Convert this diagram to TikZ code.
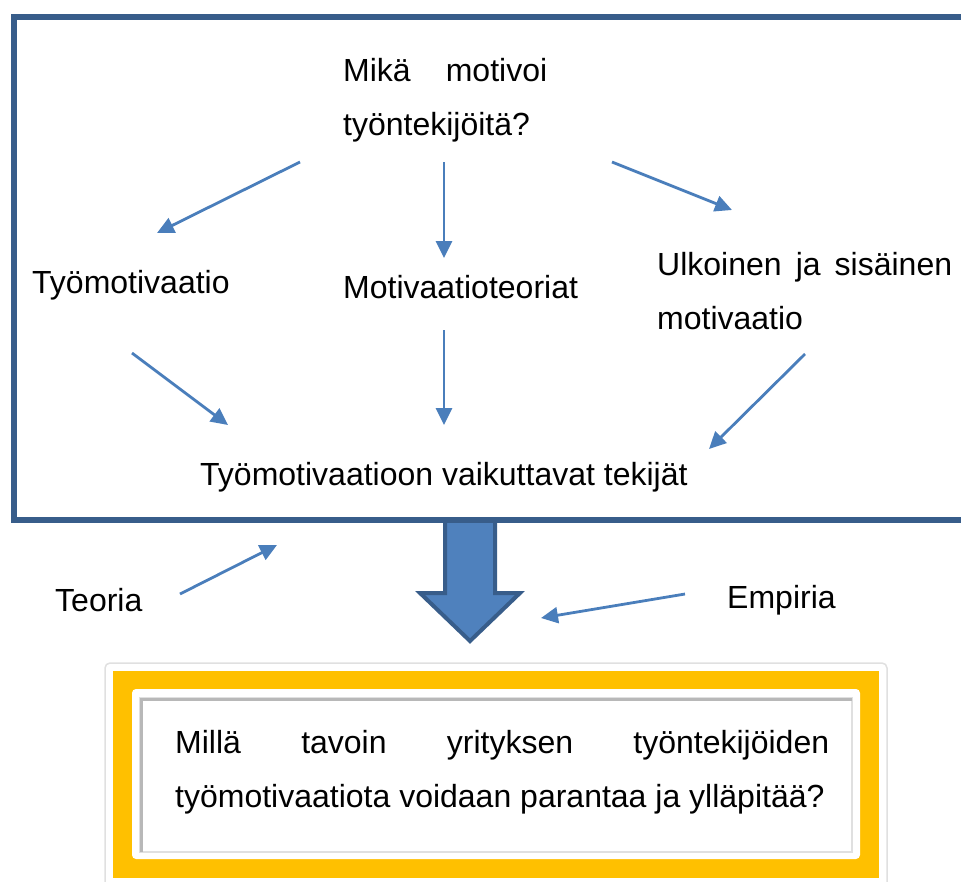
\documentclass[tikz,border=0pt]{standalone}
\usepackage{fontspec}
\setmainfont{Liberation Sans}
\usetikzlibrary{arrows.meta,calc,positioning}
\definecolor{frameblue}{RGB}{56,93,138}
\definecolor{arrowblue}{RGB}{74,126,187}
\definecolor{fillblue}{RGB}{79,129,189}
\definecolor{goldfill}{RGB}{255,192,0}
\newcommand{\colorFrame}{frameblue}
\newcommand{\colorArrow}{arrowblue}
\newcommand{\colorGold}{goldfill}

\begin{document}
\begin{tikzpicture}[x=1pt, y=-1pt,
    txt/.style={inner sep=0pt, anchor=west, align=left, font=\fontsize{32pt}{54pt}\selectfont},
    conn/.style={line width=2.8pt, color=\colorArrow, -{Triangle[length=17pt,width=16pt]}}]
        \useasboundingbox (0, 0) rectangle (961, 881);

        % big arrow and blue frame
        \draw[line width=4pt, line join=miter, draw=\colorFrame, fill=fillblue]
            (445, 519) -- (445, 593) -- (420, 593) -- (470, 641) -- (520, 593) -- (495, 593) -- (495, 519) -- cycle;
        \draw[line width=6pt, color=\colorFrame] (975, 16.5) -- (13.5, 16.5) -- (13.5, 520) -- (975, 520);

        % texts
        \node[txt] (q) at (343, 100) {\makebox[204pt][s]{Mikä motivoi}\\työntekijöitä?};
        \node[txt] (tm) at (32, 285) {Työmotivaatio};
        \node[txt] (mt) at (343, 287) {Motivaatioteoriat};
        \node[txt] (us) at (657, 291) {\makebox[295pt][s]{Ulkoinen ja sisäinen}\\motivaatio};
        \node[txt] (tekijat) at (200, 477) {Työmotivaatioon vaikuttavat tekijät};
        \node[txt] (teoria) at (55, 600) {Teoria};
        \node[txt] (empiria) at (727, 600) {Empiria};

        \coordinate (teoriaend) at (277, 545);
        \coordinate (empiriaend) at (541, 618);

        % arrows
        \draw[conn] ($(q.west)+(-43, 62)$) -- ($(tm.west)+(125, -52)$);
        \draw[conn] ($(q.west)+(101, 62)$) -- ($(mt.west)+(101, -29)$);
        \draw[conn] ($(q.west)+(269, 62)$) -- ($(us.west)+(75, -81)$);
        \draw[conn] ($(tm.west)+(100, 68)$) -- ($(tekijat.west)+(28, -52)$);
        \draw[conn] ($(mt.west)+(101, 43)$) -- ($(tekijat.west)+(244, -52)$);
        \draw[conn] ($(us.west)+(148, 63)$) -- ($(tekijat.west)+(509, -28)$);
        \draw[conn] ($(teoria.west)+(125, -6)$) -- (teoriaend);
        \draw[conn] ($(empiria.west)+(-42, -6)$) -- (empiriaend);

        % goal box
        \draw[fill=white, draw=black!12, line width=1.5pt, rounded corners=5pt] (105, 663) rectangle (887, 900);
        \fill[color=\colorGold] (113, 671) rectangle (879, 878);
        \fill[white, rounded corners=4pt] (132, 689) rectangle (860, 859);
        \draw[black!12, line width=2pt] (140, 698) rectangle (852, 852);
        \draw[black!28, line width=3pt] (141, 852) -- (141, 699) -- (852, 699);

        \node[txt] (goal) at (175, 772) {\makebox[654pt][s]{Millä tavoin yrityksen työntekijöiden}\\työmotivaatiota voidaan parantaa ja ylläpitää?};

\end{tikzpicture}
\end{document}
